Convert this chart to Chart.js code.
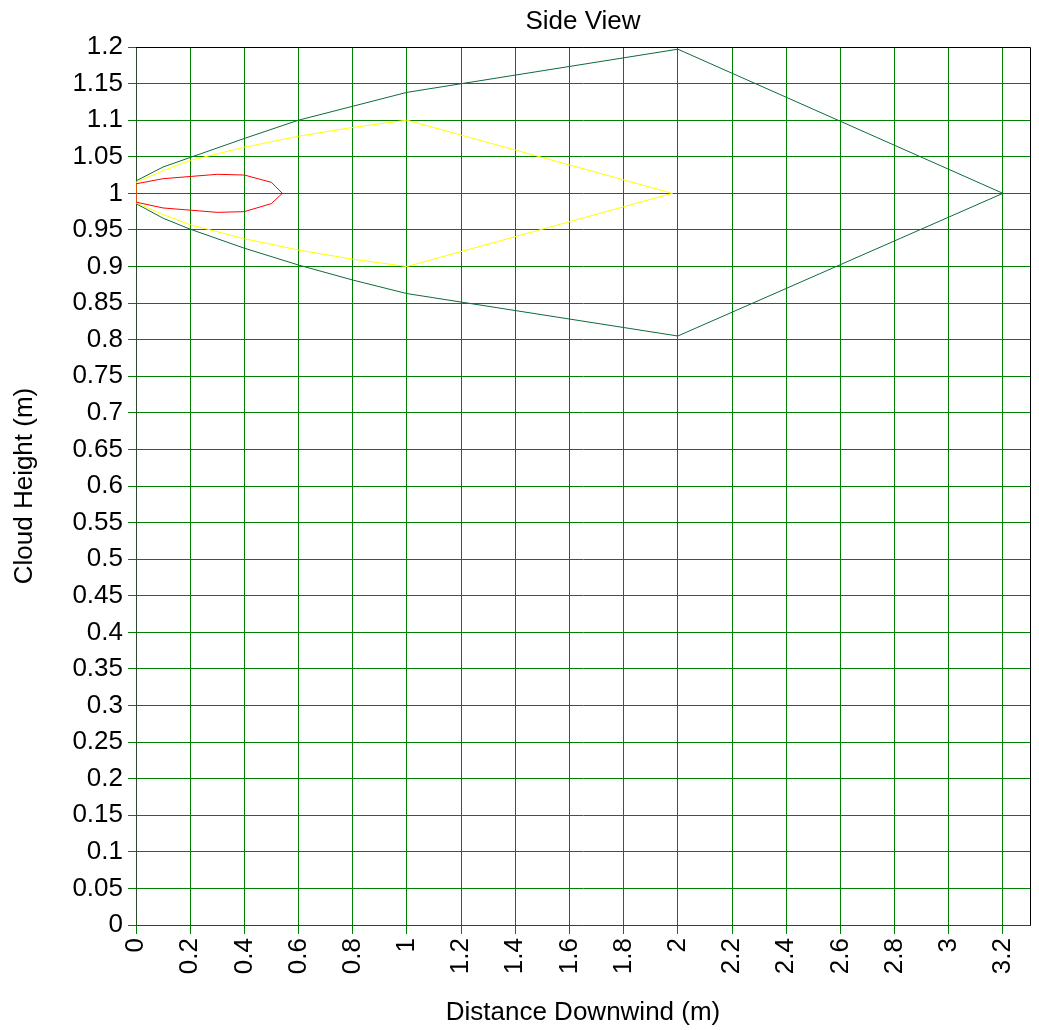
<!DOCTYPE html>
<html>
<head>
<meta charset="utf-8">
<script src="https://cdn.jsdelivr.net/npm/chart.js@4/dist/chart.umd.min.js"></script>
<style>
  html, body { margin: 0; padding: 0; background: #fff; }
  #wrap { width: 1039px; height: 1030px; }
</style>
</head>
<body>
<div id="wrap"><canvas id="chart" width="1039" height="1030"></canvas></div>
<script>
// ── Data ──────────────────────────────────────────────────────────────────

const redX    = [0, 0.1, 0.3, 0.4, 0.5, 0.54, 0.5, 0.4, 0.3, 0.1, 0, 0];
const redY    = [1.013, 1.02, 1.026, 1.025, 1.015, 1.0, 0.986, 0.975, 0.974, 0.98, 0.988, 1.013];

const yellowX = [0, 0.1, 0.2, 0.4, 0.6, 0.8, 1.0, 1.98, 1.0, 0.8, 0.6, 0.4, 0.2, 0.1, 0, 0];
const yellowY = [1.015, 1.031, 1.045, 1.063, 1.078, 1.09, 1.1, 1.0, 0.9, 0.91, 0.9225, 0.938, 0.957, 0.971, 0.987, 1.015];

const greenX  = [0, 0.1, 0.2, 0.4, 0.6, 0.8, 1.0, 2.0, 3.2, 2.0, 1.0, 0.8, 0.6, 0.4, 0.2, 0.1, 0, 0];
const greenY  = [1.017, 1.036, 1.049, 1.075, 1.1, 1.119, 1.138, 1.197, 1.0, 0.805, 0.863, 0.8815, 0.902, 0.925, 0.951, 0.966, 0.986, 1.017];

const xMin = 0, xMax = 3.3, xStep = 0.2, xLastTick = 3.2;
const yMin = 0, yMax = 1.2, yStep = 0.05;

// ── Helpers ───────────────────────────────────────────────────────────────

const pts = (xs, ys) => xs.map((x, i) => ({ x, y: ys[i] }));
const fmt = (v) => String(+Number(v).toFixed(2));

const FONT = 'Arial, "Liberation Sans", Helvetica, sans-serif';
const SIZE = 26;
const GRID = '#008000';

const line = (label, xs, ys, color) => ({
  label,
  data: pts(xs, ys),
  xAxisID: 'x',
  yAxisID: 'y',
  showLine: true,
  borderColor: color,
  backgroundColor: color,
  borderWidth: 1,
  pointRadius: 0,
  tension: 0,
  fill: false,
});

// frame on the top and right side of the plot
const framePlugin = {
  id: 'frame',
  afterDraw(chart) {
    const { ctx, chartArea: a } = chart;
    ctx.save();
    ctx.strokeStyle = '#000';
    ctx.lineWidth = 1;
    ctx.beginPath();
    ctx.moveTo(a.left, a.top + 0.5);
    ctx.lineTo(a.right + 0.5, a.top + 0.5);
    ctx.lineTo(a.right + 0.5, a.bottom);
    ctx.stroke();
    ctx.restore();
  },
};

// ── Chart ─────────────────────────────────────────────────────────────────

new Chart(document.getElementById('chart'), {
  type: 'scatter',
  data: {
    datasets: [
      line('Red',    redX,    redY,    '#ff0000'),
      line('Yellow', yellowX, yellowY, '#ffff00'),
      line('Green',  greenX,  greenY,  '#0e6b3b'),
    ],
  },
  options: {
    responsive: false,
    animation: false,
    layout: { padding: { left: 0, right: 9, top: 0, bottom: 0 } },
    plugins: {
      legend: { display: false },
      tooltip: { enabled: false },
      title: { display: false },
    },
    scales: {
      x: {
        type: 'linear',
        position: 'bottom',
        min: xMin,
        max: xMax,
        ticks: {
          stepSize: xStep,
          includeBounds: false,
          autoSkip: false,
          minRotation: 90,
          maxRotation: 90,
          padding: 4,
          color: '#000',
          font: { family: FONT, size: SIZE },
          callback: fmt,
        },
        afterBuildTicks: (s) => { s.ticks = s.ticks.filter(t => t.value <= xLastTick + 1e-9); },
        afterFit: (s) => { s.height = 105; },
        grid: { color: GRID, lineWidth: 1, tickLength: 9, drawTicks: true },
        border: { color: '#2a4a2a', width: 1 },
        title: {
          display: true,
          text: 'Distance Downwind (m)',
          color: '#000',
          font: { family: FONT, size: SIZE, lineHeight: 1.2 },
          padding: { top: 0, bottom: 2 },
        },
      },
      y: {
        type: 'linear',
        min: yMin,
        max: yMax,
        ticks: {
          stepSize: yStep,
          autoSkip: false,
          padding: 5,
          color: '#000',
          font: { family: FONT, size: SIZE },
          callback: fmt,
        },
        afterFit: (s) => { s.width = 136; },
        grid: { color: GRID, lineWidth: 1, tickLength: 8, drawTicks: true },
        border: { color: '#2a4a2a', width: 1 },
        title: {
          display: true,
          text: 'Cloud Height (m)',
          color: '#000',
          font: { family: FONT, size: SIZE, lineHeight: 1.2 },
          padding: { top: 9, bottom: 0 },
        },
      },
      // top axis only carries the chart title, centred over the plot
      top: {
        type: 'linear',
        position: 'top',
        min: 0,
        max: 1,
        ticks: { display: false },
        grid: { display: false, drawTicks: false },
        border: { display: false },
        afterFit: (s) => { s.height = 47; },
        title: {
          display: true,
          text: 'Side View',
          color: '#000',
          font: { family: FONT, size: SIZE, lineHeight: 1.2 },
          padding: { top: 6, bottom: 0 },
        },
      },
    },
  },
  plugins: [framePlugin],
});
</script>
</body>
</html>
